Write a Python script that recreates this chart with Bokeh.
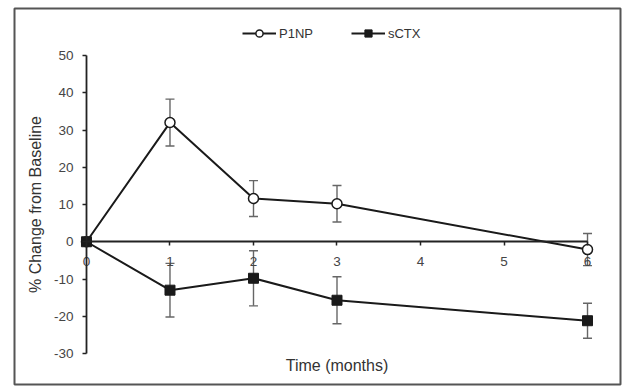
from bokeh.plotting import figure
from bokeh.models import (LinearAxis, Range1d, Whisker, ColumnDataSource, Legend,
                          LegendItem, Label, TeeHead, FixedTicker, PrintfTickFormatter)
from bokeh.embed import file_html
from bokeh.resources import INLINE
import math

months = [0, 1, 2, 3, 6]
p1np = [0, 32.0, 11.6, 10.2, -2.1]
p1np_err = [0, 6.3, 4.8, 4.9, 4.3]
sctx = [0, -13.0, -9.8, -15.7, -21.2]
sctx_err = [0, 7.2, 7.4, 6.3, 4.7]
x_ticks = [0, 1, 2, 3, 4, 5, 6]
y_ticks = [-30, -20, -10, 0, 10, 20, 30, 40, 50]

FONT = "Liberation Sans"

p = figure(width=622, height=387, x_range=Range1d(-0.862, 6.395),
           y_range=Range1d(-38.32, 62.62), output_backend="svg",
           toolbar_location=None, x_axis_type=None, y_axis_type=None,
           min_border_left=14, min_border_right=2, min_border_top=8,
           min_border_bottom=3)
p.outline_line_color = "#555555"
p.outline_line_width = 2
p.background_fill_color = "white"
p.border_fill_color = "white"

xaxis = LinearAxis(fixed_location=0, bounds=(0, 6), ticker=FixedTicker(ticks=x_ticks),
                   formatter=PrintfTickFormatter(format="%d"))
yaxis = LinearAxis(fixed_location=0, bounds=(-30, 50), ticker=FixedTicker(ticks=y_ticks),
                   formatter=PrintfTickFormatter(format="%d"))
for ax in (xaxis, yaxis):
    ax.axis_line_color = "#222222"
    ax.axis_line_width = 1.8
    ax.major_tick_line_color = "#222222"
    ax.major_tick_line_width = 1.5
    ax.major_tick_out = 4
    ax.major_tick_in = 0
    ax.minor_tick_line_color = None
    ax.major_label_text_font = FONT
    ax.major_label_text_font_size = "13.5px"
    ax.major_label_text_color = "#454545"
xaxis.major_label_standoff = 11
yaxis.major_label_standoff = 9
p.add_layout(xaxis, "below")
p.add_layout(yaxis, "left")

# error bars
src_p = ColumnDataSource(dict(x=months[1:],
                              up=[v + e for v, e in zip(p1np[1:], p1np_err[1:])],
                              lo=[v - e for v, e in zip(p1np[1:], p1np_err[1:])]))
src_s = ColumnDataSource(dict(x=months[1:],
                              up=[v + e for v, e in zip(sctx[1:], sctx_err[1:])],
                              lo=[v - e for v, e in zip(sctx[1:], sctx_err[1:])]))
for src in (src_p, src_s):
    w = Whisker(base="x", upper="up", lower="lo", source=src,
                line_color="#666666", line_width=1.4, level="underlay",
                upper_head=TeeHead(size=9, line_color="#666666", line_width=1.4),
                lower_head=TeeHead(size=9, line_color="#666666", line_width=1.4))
    p.add_layout(w)

lp = p.line(months, p1np, line_color="#1a1a1a", line_width=2)
mp = p.scatter(months, p1np, marker="circle", size=10, fill_color="white",
               line_color="#1a1a1a", line_width=1.5)
ls = p.line(months, sctx, line_color="#1a1a1a", line_width=2)
ms = p.scatter(months, sctx, marker="square", size=10, fill_color="#1a1a1a",
               line_color="#1a1a1a", line_width=1)

legend = Legend(items=[LegendItem(label="P1NP", renderers=[lp, mp]),
                       LegendItem(label="sCTX", renderers=[ls, ms])],
                orientation="horizontal", location=(228, 342),
                glyph_width=34, glyph_height=18, label_standoff=3, spacing=38,
                padding=0, margin=0, border_line_color=None,
                background_fill_alpha=0, label_text_font=FONT,
                label_text_font_size="13px", label_text_color="#333333")
p.add_layout(legend, "center")

p.add_layout(Label(x=3, y=-33.1, text="Time (months)", text_align="center",
                   text_baseline="middle", text_font=FONT, text_font_size="16px",
                   text_color="#333333"))
p.add_layout(Label(x=-0.61, y=10, text="% Change from Baseline", angle=math.pi / 2,
                   text_align="center", text_baseline="middle", text_font=FONT,
                   text_font_size="16px", text_color="#333333"))

open("out.html", "w").write(file_html(p, INLINE))
